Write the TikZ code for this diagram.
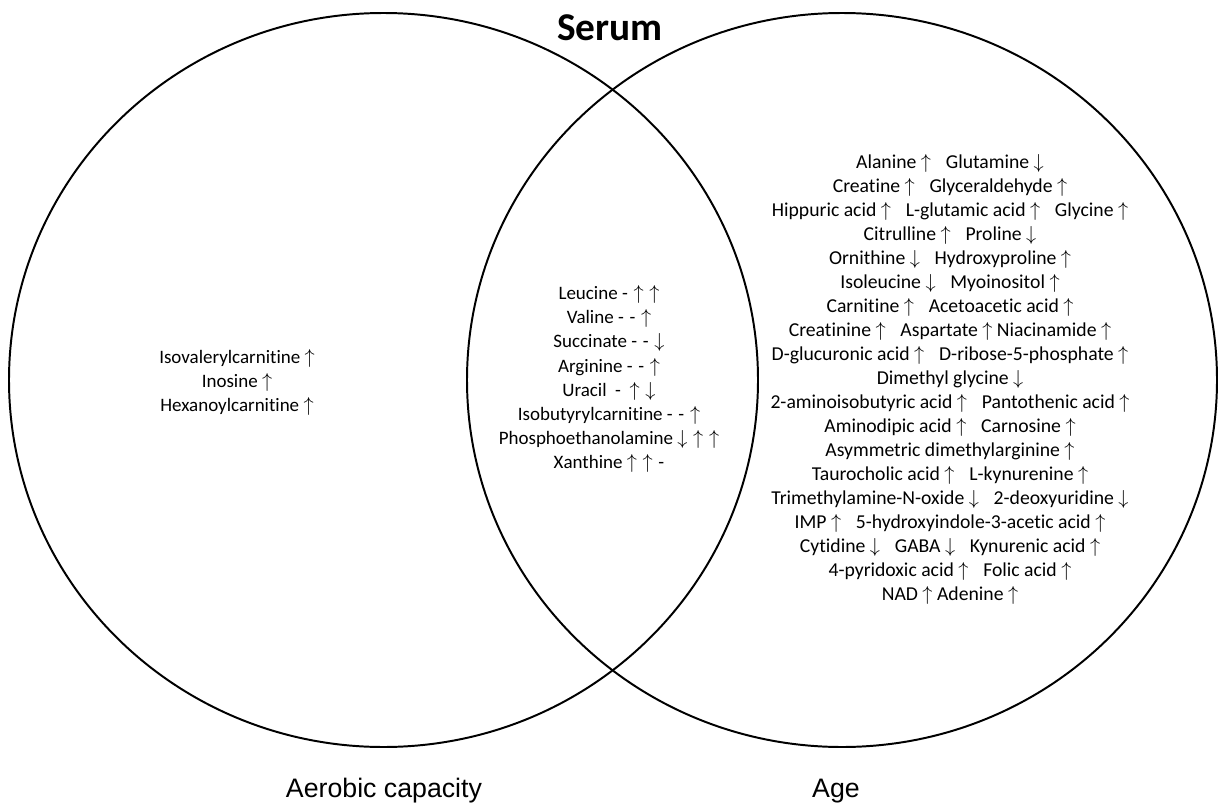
\documentclass[tikz,border=0pt]{standalone}
\usepackage{fontspec}
\usepackage{xcolor}
\usepackage{tikz}
\setmainfont{Carlito}[Ligatures=NoCommon]
\newfontfamily\arialfont{Liberation Sans}
\definecolor{ink}{HTML}{000000}
\newcommand{\up}{$\uparrow$}
\newcommand{\dn}{$\downarrow$}
\newcommand{\gap}{\hspace{0.75em}}
\newcommand{\sep}{\hspace{0.3em}}
\tikzset{
  ring/.style={draw=ink, line width=1.4pt},
  list/.style={text=ink, font=\fontsize{14}{17.07}\selectfont, align=center, inner sep=0pt},
  small list/.style={list, font=\fontsize{13.5}{17.1}\selectfont},
  ttl/.style={text=ink, font=\fontsize{28}{32}\selectfont\bfseries, inner sep=0pt},
  setlab/.style={text=ink, font=\arialfont\fontsize{19}{22}\selectfont, inner sep=0pt},
}

\begin{document}
\begin{tikzpicture}[x=0.025cm, y=-0.025cm]
  \useasboundingbox (0,0) rectangle (1219,803);
  % the two sets
  \draw[ring] (383.5,380) ellipse [x radius=374.5, y radius=367];
  \draw[ring] (842,380) ellipse [x radius=375, y radius=367];

  \node[ttl, anchor=base] (serum) at (610,40) {Serum};

  % aerobic capacity only
  \node[small list] (aero) at (237,382) {Isovalerylcarnitine \up\\ Inosine \up\\ Hexanoylcarnitine \up};

  % shared
  \node[small list] (both) at (609,379) {Leucine -\sep\up\sep\up\\ Valine -\sep-\sep\up\\ Succinate -\sep-\sep\dn\\
    Arginine -\sep-\sep\up\\ Uracil\ \ -\ \ \up\sep\dn\\ Isobutyrylcarnitine -\sep-\sep\up\\
    Phosphoethanolamine \dn\sep\up\sep\up\\ Xanthine \up\sep\up\sep-};

  % age only
  \node[list] (age) at (950,379) {Alanine \up\gap Glutamine \dn\\
    Creatine \up\gap Glyceraldehyde \up\\
    Hippuric acid \up\gap L-glutamic acid \up\gap Glycine \up\\
    Citrulline \up\gap Proline \dn\\
    Ornithine \dn\gap Hydroxyproline \up\\
    Isoleucine \dn\gap Myoinositol \up\\
    Carnitine \up\gap Acetoacetic acid \up\\
    Creatinine \up\gap Aspartate \up\ Niacinamide \up\\
    D-glucuronic acid \up\gap D-ribose-5-phosphate \up\\
    Dimethyl glycine \dn\\
    2-aminoisobutyric acid \up\gap Pantothenic acid \up\\
    Aminodipic acid \up\gap Carnosine \up\\
    Asymmetric dimethylarginine \up\\
    Taurocholic acid \up\gap L-kynurenine \up\\
    Trimethylamine-N-oxide \dn\gap 2-deoxyuridine \dn\\
    IMP \up\gap 5-hydroxyindole-3-acetic acid \up\\
    Cytidine \dn\gap GABA \dn\gap Kynurenic acid \up\\
    4-pyridoxic acid \up\gap Folic acid \up\\
    NAD \up\ Adenine \up};

  \node[setlab, anchor=base] (aerolab) at (384,797) {Aerobic capacity};
  \node[setlab, anchor=base] (agelab) at (836,797) {Age};
\end{tikzpicture}
\end{document}
